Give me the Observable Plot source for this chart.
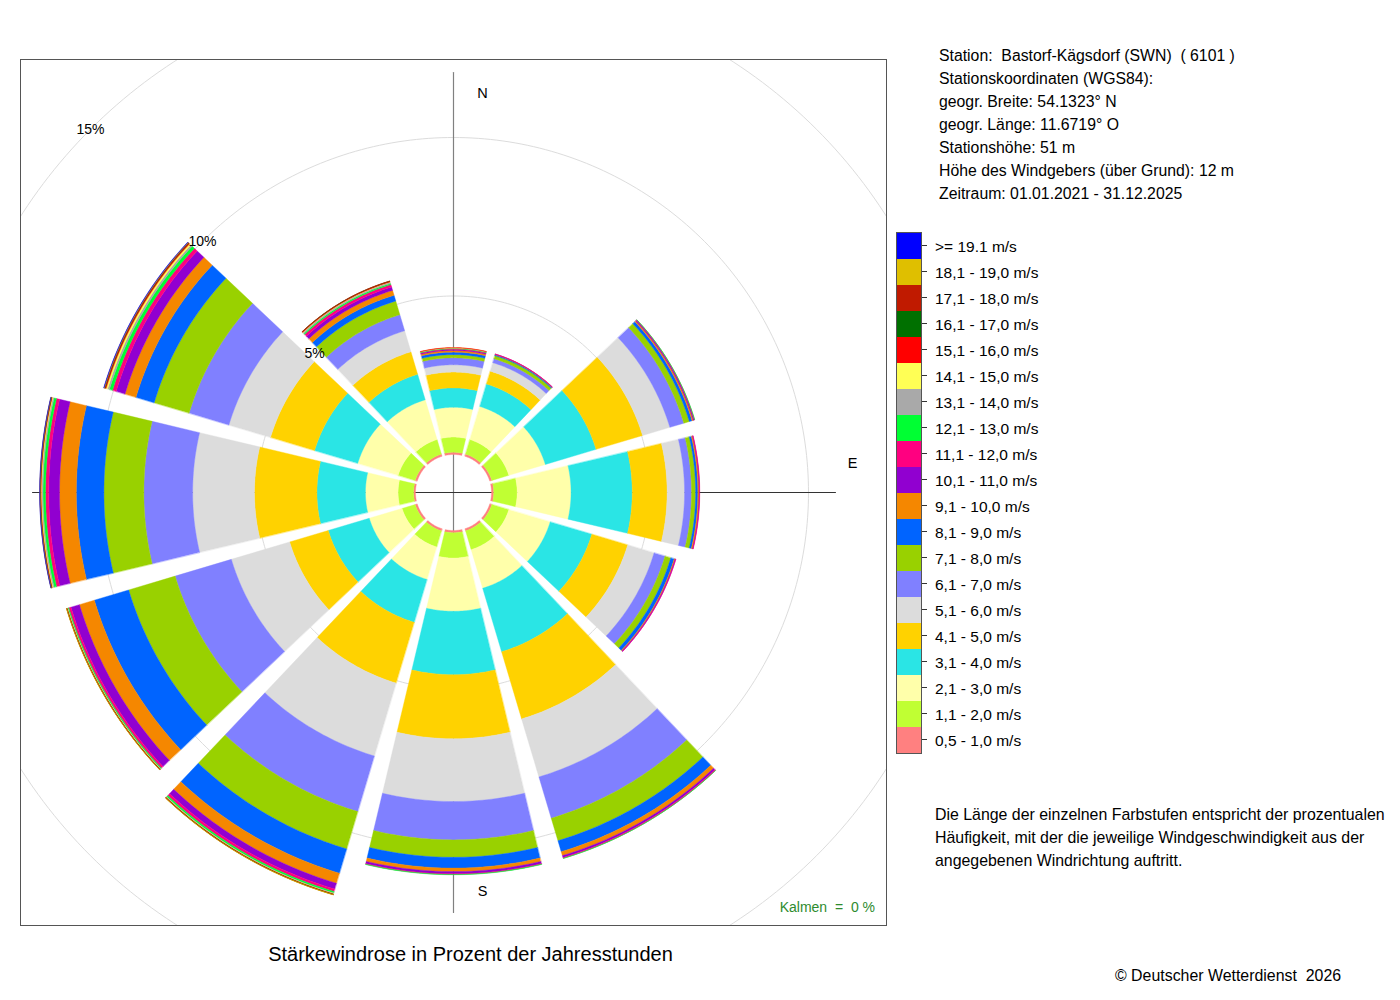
<!DOCTYPE html>
<html>
<head>
<meta charset="utf-8">
<script src="https://cdn.jsdelivr.net/npm/d3@7"></script>
<script src="https://cdn.jsdelivr.net/npm/@observablehq/plot@0.6"></script>
<style>
  body { margin: 0; background: #fff; font-family: "Liberation Sans", Arial, sans-serif; color: #000; }
  #page { position: relative; width: 1400px; height: 1000px; overflow: hidden; background: #fff; }
  .abs { position: absolute; white-space: pre; }
  #chart { position: absolute; left: 0; top: 0; }
</style>
</head>
<body>
<div id="page">
  <div id="chart"></div>
  <div class="abs" id="info" style="left:939px; top:44px; font-size:15.8px; line-height:23px;"></div>
  <div id="legend"></div>
  <div class="abs" id="desc" style="left:935px; top:803px; font-size:15.9px; line-height:23px;"></div>
  <div class="abs" id="kalmen" style="right:525px; top:899px; font-size:14px; line-height:17px; color:#2e8b2e;"></div>
  <div class="abs" id="title" style="left:0; width:941px; text-align:center; top:942px; font-size:20px; line-height:24px;"></div>
  <div class="abs" id="copy" style="left:1115px; top:964px; font-size:15.9px; line-height:23px;"></div>
</div>
<script>
// ---------------- data ----------------
const directions = [0, 30, 60, 90, 120, 150, 180, 210, 240, 270, 300, 330];
const compassLabels = ["N", "E", "S", "W"];
const compassAngles = [0, 90, 180, 270];
const gridPercents = [5, 10, 15];

const speedClasses = [
  "0,5 - 1,0 m/s", "1,1 - 2,0 m/s", "2,1 - 3,0 m/s", "3,1 - 4,0 m/s", "4,1 - 5,0 m/s",
  "5,1 - 6,0 m/s", "6,1 - 7,0 m/s", "7,1 - 8,0 m/s", "8,1 - 9,0 m/s", "9,1 - 10,0 m/s",
  "10,1 - 11,0 m/s", "11,1 - 12,0 m/s", "12,1 - 13,0 m/s", "13,1 - 14,0 m/s", "14,1 - 15,0 m/s",
  "15,1 - 16,0 m/s", "16,1 - 17,0 m/s", "17,1 - 18,0 m/s", "18,1 - 19,0 m/s", ">= 19.1 m/s"
];
const classColors = [
  "#FF8080", "#C0FF33", "#FFFFAA", "#2AE5E5", "#FFD200",
  "#DCDCDC", "#8080FF", "#99D100", "#0064FF", "#F58700",
  "#9100D0", "#FF0080", "#00FF33", "#A9A9A9", "#FFFF55",
  "#FF0000", "#007000", "#C01A00", "#DFBF00", "#0000FF"
];

// frequency (% of hours) per speed class, one array per direction sector
const freqN   = [0.07, 0.48, 0.94, 0.61, 0.50, 0.23, 0.22, 0.10, 0.08, 0.05, 0.03, 0.02, 0.02, 0.01, 0.005, 0.005, 0, 0, 0, 0];
const freqNNE = [0.07, 0.48, 1.09, 0.74, 0.42, 0.28, 0.13, 0.10, 0.03, 0.015, 0.005, 0.005, 0, 0, 0, 0, 0, 0, 0, 0];
const freqENE = [0.07, 0.56, 1.20, 1.67, 1.53, 0.90, 0.46, 0.18, 0.09, 0.04, 0.03, 0.015, 0.005, 0, 0, 0, 0, 0, 0, 0];
const freqE   = [0.07, 0.74, 1.70, 1.93, 1.10, 0.55, 0.22, 0.13, 0.07, 0.04, 0.01, 0.01, 0, 0, 0, 0, 0, 0, 0, 0];
const freqESE = [0.07, 0.56, 1.36, 1.37, 1.18, 0.87, 0.36, 0.19, 0.11, 0.03, 0.02, 0.005, 0, 0, 0, 0, 0, 0, 0, 0];
const freqSSE = [0.07, 0.62, 1.27, 2.09, 2.21, 1.91, 1.36, 0.74, 0.36, 0.13, 0.06, 0.03, 0.005, 0, 0, 0, 0, 0, 0, 0];
const freqS   = [0.07, 0.80, 1.68, 2.00, 2.02, 1.98, 1.21, 0.55, 0.34, 0.11, 0.07, 0.02, 0.01, 0, 0, 0, 0, 0, 0, 0];
const freqSSW = [0.07, 0.53, 1.07, 1.41, 2.00, 2.40, 1.83, 1.23, 0.80, 0.33, 0.19, 0.08, 0.05, 0.02, 0.01, 0.01, 0.01, 0.005, 0.005, 0];
const freqWSW = [0.07, 0.43, 1.08, 1.35, 1.27, 1.92, 1.85, 1.53, 1.13, 0.49, 0.28, 0.07, 0.03, 0.015, 0.01, 0.01, 0.005, 0.005, 0.005, 0];
const freqW   = [0.06, 0.49, 1.03, 1.53, 1.97, 1.95, 1.54, 1.26, 0.87, 0.53, 0.34, 0.10, 0.08, 0.04, 0.02, 0.02, 0.01, 0.005, 0.005, 0.005];
const freqWNW = [0.07, 0.56, 1.33, 1.42, 1.45, 1.37, 1.31, 1.15, 0.60, 0.36, 0.29, 0.12, 0.10, 0.06, 0.05, 0.03, 0.01, 0.02, 0.01, 0.01];
const freqNNW = [0.07, 0.48, 1.31, 0.84, 0.74, 0.69, 0.53, 0.45, 0.19, 0.16, 0.11, 0.08, 0.04, 0.04, 0.01, 0.02, 0.005, 0.005, 0, 0];
const sectorFreqs = [freqN, freqNNE, freqENE, freqE, freqESE, freqSSE, freqS, freqSSW, freqWSW, freqW, freqWNW, freqNNW];

const calmText = "Kalmen  =  0 %";
const infoLines = [
  "Station:  Bastorf-Kägsdorf (SWN)  ( 6101 )",
  "Stationskoordinaten (WGS84):",
  "geogr. Breite: 54.1323° N",
  "geogr. Länge: 11.6719° O",
  "Stationshöhe: 51 m",
  "Höhe des Windgebers (über Grund): 12 m",
  "Zeitraum: 01.01.2021 - 31.12.2025"
];
const descLines = [
  "Die Länge der einzelnen Farbstufen entspricht der prozentualen",
  "Häufigkeit, mit der die jeweilige Windgeschwindigkeit aus der",
  "angegebenen Windrichtung auftritt."
];
const titleText = "Stärkewindrose in Prozent der Jahresstunden";
const copyText = "© Deutscher Wetterdienst  2026";

// ---------------- geometry helpers (units: percent) ----------------
const pxPerPct = 31.7;          // picture scale, used only to size hole/frame in percent units
const hole = 38 / pxPerPct;     // inner empty circle
const frameHalf = 433 / pxPerPct;
const halfGapDeg = 1.6;
const halfGapConst = 0.6 / pxPerPct;

function pt(u, deg) {
  const a = deg * Math.PI / 180;
  return [u * Math.sin(a), -u * Math.cos(a)];
}
function halfWidth(u) {
  return 15 - halfGapDeg - Math.asin(Math.min(1, halfGapConst / u)) * 180 / Math.PI;
}
function sectorRing(dir, p0, p1) {
  const u0 = hole + p0, u1 = hole + p1;
  const h0 = halfWidth(u0), h1 = halfWidth(u1);
  const n = 30, ring = [];
  for (let i = 0; i <= n; i++) ring.push(pt(u1, dir - h1 + 2 * h1 * i / n));
  for (let i = n; i >= 0; i--) ring.push(pt(u0, dir - h0 + 2 * h0 * i / n));
  ring.push(ring[0]);
  return ring;
}

// bands
const bands = [];
directions.forEach((dir, di) => {
  let cum = 0;
  sectorFreqs[di].forEach((v, ci) => {
    if (v > 0) {
      bands.push({
        type: "Feature",
        properties: { dir, cls: speedClasses[ci], value: v },
        geometry: { type: "Polygon", coordinates: [sectorRing(dir, cum, cum + v)] }
      });
    }
    cum += v;
  });
});

// grid circles
const circles = gridPercents.map(p => ({
  type: "Feature", properties: { p },
  geometry: { type: "LineString", coordinates: d3.range(0, 361, 1).map(a => pt(hole + p, a)) }
}));

// axis lines
const axisV = { type: "LineString", coordinates: [[0, -420 / pxPerPct], [0, 420 / pxPerPct]] };
const axisH = { type: "LineString", coordinates: [[-421 / pxPerPct, 0], [382 / pxPerPct, 0]] };

const frameSquare = {
  type: "Polygon",
  coordinates: [[[-frameHalf, -frameHalf], [frameHalf, -frameHalf], [frameHalf, frameHalf], [-frameHalf, frameHalf], [-frameHalf, -frameHalf]]]
};

const labelR = 399 / pxPerPct;
const compass = compassLabels.map((t, i) => ({ t, a: compassAngles[i] }));

const chart = Plot.plot({
  width: 900,
  height: 940,
  marginLeft: 20,
  marginTop: 59,
  marginRight: 14,
  marginBottom: 15,
  projection: { type: "identity", domain: frameSquare },
  color: { type: "ordinal", domain: speedClasses, range: classColors },
  style: { fontFamily: "Liberation Sans, Arial, sans-serif", background: "transparent", overflow: "visible" },
  marks: [
    Plot.geo(circles, { stroke: "#dcdcdc", strokeWidth: 1, fill: "none", clip: true }),
    Plot.geo([axisV], { stroke: "#808080", strokeWidth: 1.2 }),
    Plot.geo([axisH], { stroke: "#333333", strokeWidth: 1 }),
    Plot.text(compass.filter(d => d.a % 180 === 0), {
      x: d => pt(labelR, d.a)[0], y: d => pt(labelR, d.a)[1], text: "t",
      dx: 29, fontSize: 14.5, fill: "#000"
    }),
    Plot.text(compass.filter(d => d.a % 180 !== 0), {
      x: d => pt(labelR, d.a)[0], y: d => pt(labelR, d.a)[1], text: "t",
      dy: -29, fontSize: 14.5, fill: "#000"
    }),
    Plot.geo(bands, {
      fill: d => d.properties.cls,
      stroke: d => d.properties.cls,
      strokeWidth: 0.4
    }),
    Plot.text(gridPercents, {
      x: p => pt(hole + p, 315)[0], y: p => pt(hole + p, 315)[1],
      text: p => p + "%", fontSize: 14, fill: "#000"
    }),
    Plot.frame({ stroke: "#555555", strokeWidth: 1 })
  ]
});
document.getElementById("chart").appendChild(chart);

// ---------------- texts ----------------
document.getElementById("info").textContent = infoLines.join("\n");
document.getElementById("desc").textContent = descLines.join("\n");
document.getElementById("kalmen").textContent = calmText;
document.getElementById("title").textContent = titleText;
document.getElementById("copy").textContent = copyText;

// ---------------- legend ----------------
const legend = document.getElementById("legend");
const lgLeft = 896, lgTop = 233, lgRow = 26;
const order = d3.range(speedClasses.length).reverse();
const box = document.createElement("div");
box.style.cssText = `position:absolute;left:${lgLeft}px;top:${lgTop - 1}px;width:24px;height:${lgRow * order.length}px;border:1px solid #555;`;
order.forEach((ci, i) => {
  const sw = document.createElement("div");
  sw.style.cssText = `position:absolute;left:0;top:${i * lgRow}px;width:24px;height:${lgRow}px;background:${classColors[ci]};`;
  box.appendChild(sw);
  const tick = document.createElement("div");
  tick.style.cssText = `position:absolute;left:${lgLeft + 26}px;top:${lgTop + i * lgRow + 12}px;width:5px;height:1px;background:#333;`;
  legend.appendChild(tick);
  const lab = document.createElement("div");
  lab.className = "abs";
  lab.style.cssText += `left:935px;top:${lgTop + i * lgRow + 1}px;height:${lgRow}px;line-height:${lgRow}px;font-size:15.5px;`;
  lab.textContent = speedClasses[ci];
  legend.appendChild(lab);
});
legend.appendChild(box);
</script>
</body>
</html>
